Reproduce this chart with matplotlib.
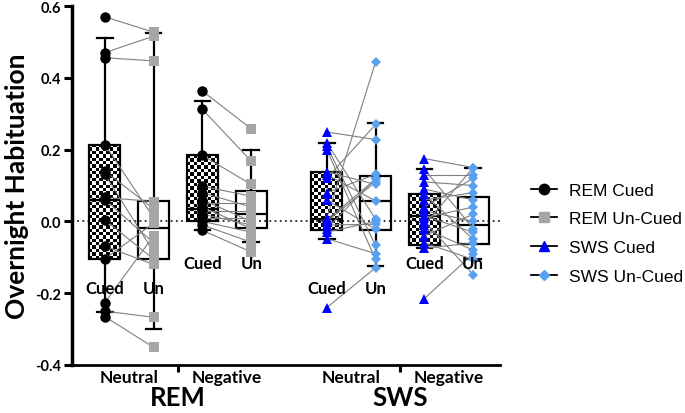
import numpy as np
import matplotlib
matplotlib.use("Agg")
import matplotlib.pyplot as plt
from matplotlib.lines import Line2D

# ---------------- data ----------------
conditions = ["REM Neutral", "REM Negative", "SWS Neutral", "SWS Negative"]
valence_labels = ["Neutral", "Negative", "Neutral", "Negative"]
stage_labels = ["REM", "SWS"]
series_names = ["REM Cued", "REM Un-Cued", "SWS Cued", "SWS Un-Cued"]

rem_neutral_cued = [0.57, 0.47, 0.456, 0.214, 0.14, 0.131, 0.067, 0.061, 0.004, -0.069, -0.104, -0.226, -0.25, -0.265]
rem_neutral_un = [0.527, 0.516, 0.447, 0.01, 0.035, -0.085, 0.055, -0.06, -0.105, -0.12, -0.005, -0.04, -0.267, -0.351]

rem_negative_cued = [0.363, 0.312, 0.184, 0.098, 0.08, 0.06, 0.05, 0.04, 0.03, 0.02, 0.01, 0.0, -0.01, -0.025]
rem_negative_un = [0.258, 0.168, 0.103, 0.07, 0.04, 0.0, 0.05, -0.02, 0.03, -0.01, 0.01, -0.03, -0.058, -0.085]

sws_neutral_cued = [0.249, 0.219, 0.21, 0.2, 0.138, 0.13, 0.12, 0.08, 0.06, 0.01, 0.005, 0.0, -0.01, -0.02, -0.03, -0.048, -0.24]
sws_neutral_un = [0.228, 0.006, -0.067, -0.106, 0.103, 0.057, 0.27, 0.131, -0.022, 0.444, 0.117, 0.11, -0.008, 0.12, 0.0, -0.09, -0.129]

sws_negative_cued = [0.175, 0.145, 0.13, 0.11, 0.09, 0.075, 0.06, 0.04, 0.03, 0.015, 0.01, 0.0, -0.01, -0.02, -0.04, -0.06, -0.075, -0.215]
sws_negative_un = [0.15, -0.02, 0.13, 0.1, 0.06, -0.05, 0.08, 0.12, 0.0, -0.03, 0.04, -0.148, 0.15, -0.08, 0.02, -0.106, -0.06, -0.09]

# box statistics (order: REMneuC, REMneuU, REMnegC, REMnegU, SWSneuC, SWSneuU, SWSnegC, SWSnegU)
box_whislo = [-0.253, -0.30, -0.025, -0.058, -0.048, -0.124, -0.075, -0.104]
box_q1 = [-0.104, -0.106, 0.001, -0.018, -0.025, -0.024, -0.067, -0.062]
box_med = [0.059, -0.018, 0.035, 0.02, 0.006, 0.057, 0.015, -0.011]
box_q3 = [0.214, 0.057, 0.184, 0.086, 0.138, 0.126, 0.075, 0.068]
box_whishi = [0.51, 0.526, 0.335, 0.2, 0.219, 0.273, 0.145, 0.15]

cue_label_y = [-0.185, -0.115, -0.185, -0.115]

# ---------------- style ----------------
positions = [1, 2, 3, 4, 5.55, 6.55, 7.55, 8.55]
box_w = 0.63
colors = {"REM Cued": "black", "REM Un-Cued": "#a6a6a6", "SWS Cued": "#0000ff", "SWS Un-Cued": "#58a0f0"}
markers = {"REM Cued": "o", "REM Un-Cued": "s", "SWS Cued": "^", "SWS Un-Cued": "D"}
msizes = {"REM Cued": 7.5, "REM Un-Cued": 6.5, "SWS Cued": 7.5, "SWS Un-Cued": 5.5}

label_font = "Lato"

fig = plt.figure(figsize=(6.85, 4.14), dpi=100)
ax = fig.add_axes([72 / 685, 48 / 414, 428 / 685, 359 / 414])

xmin, xmax = 1 - 33 / 49, 9.1
ax.set_xlim(xmin, xmax)
ax.set_ylim(-0.4, 0.6)

# boxes
stats = []
for i in range(8):
    stats.append(dict(whislo=box_whislo[i], q1=box_q1[i], med=box_med[i],
                      q3=box_q3[i], whishi=box_whishi[i], fliers=[]))
bp = ax.bxp(stats, positions=positions, widths=box_w, patch_artist=True,
            showfliers=False, manage_ticks=False,
            boxprops=dict(facecolor="white", edgecolor="black", linewidth=1.6),
            medianprops=dict(color="black", linewidth=1.6),
            whiskerprops=dict(color="black", linewidth=1.6),
            capprops=dict(color="black", linewidth=1.6),
            capwidths=0.32)
for j, patch in enumerate(bp["boxes"]):
    patch.set_zorder(2)
for art in bp["medians"] + bp["whiskers"] + bp["caps"]:
    art.set_zorder(2.2)

# checkerboard fill for cued boxes
ax.set_xlim(xmin, xmax)
ax.set_ylim(-0.4, 0.6)
px_per_x = 428 / (xmax - xmin)
px_per_y = 359 / 1.0
cell = 3.4
for j in range(0, 8, 2):
    patch = bp["boxes"][j]
    patch.set_facecolor("none")
    x0, x1 = positions[j] - box_w / 2, positions[j] + box_w / 2
    y0, y1 = box_q1[j], box_q3[j]
    nx = max(1, int(round((x1 - x0) * px_per_x / cell)))
    ny = max(1, int(round((y1 - y0) * px_per_y / cell)))
    board = np.indices((ny, nx)).sum(axis=0) % 2
    im = ax.imshow(board, cmap="gray", extent=(x0, x1, y0, y1), aspect="auto",
                   interpolation="nearest", zorder=1.5, origin="lower")
    im.set_clip_path(patch)
ax.set_xlim(xmin, xmax)
ax.set_ylim(-0.4, 0.6)

# zero line
ax.axhline(0, color="black", linestyle=(0, (1.2, 2.2)), linewidth=1.1, zorder=2.5)

# paired data
pairs = [
    (rem_neutral_cued, rem_neutral_un, "REM Cued", "REM Un-Cued"),
    (rem_negative_cued, rem_negative_un, "REM Cued", "REM Un-Cued"),
    (sws_neutral_cued, sws_neutral_un, "SWS Cued", "SWS Un-Cued"),
    (sws_negative_cued, sws_negative_un, "SWS Cued", "SWS Un-Cued"),
]
for k, (cued, un, sc, su) in enumerate(pairs):
    xc, xu = positions[2 * k], positions[2 * k + 1]
    for a, b in zip(cued, un):
        ax.plot([xc, xu], [a, b], color="#7f7f7f", linewidth=0.8, zorder=3)
    ax.plot([xc] * len(cued), cued, linestyle="none", marker=markers[sc],
            markersize=msizes[sc], color=colors[sc], markeredgewidth=0, zorder=4)
    ax.plot([xu] * len(un), un, linestyle="none", marker=markers[su],
            markersize=msizes[su], color=colors[su], markeredgewidth=0, zorder=4)
    ax.text(xc, cue_label_y[k], "Cued", ha="center", va="center", fontsize=12,
            fontweight="bold", family=label_font, zorder=6)
    ax.text(xu, cue_label_y[k], "Un", ha="center", va="center", fontsize=12,
            fontweight="bold", family=label_font, zorder=6)

# axes styling
for s in ["top", "right"]:
    ax.spines[s].set_visible(False)
ax.spines["left"].set_linewidth(2.5)
ax.spines["bottom"].set_linewidth(2.0)
ax.set_yticks([-0.4, -0.2, 0.0, 0.2, 0.4, 0.6])
ax.set_yticklabels(["-0.4", "-0.2", "0.0", "0.2", "0.4", "0.6"])
ax.tick_params(axis="y", direction="out", length=6, width=2.2, labelsize=10.5, pad=2)
for lab in ax.get_yticklabels():
    lab.set_fontweight("bold")
    lab.set_family(label_font)

sep = [(positions[1] + positions[2]) / 2, (positions[5] + positions[6]) / 2]
ax.set_xticks(sep)
ax.set_xticklabels([])
ax.tick_params(axis="x", direction="out", length=5, width=2.2)

ax.set_ylabel("Overnight Habituation", fontsize=19, fontweight="bold",
              family=label_font, labelpad=4)

for k in range(4):
    xm = (positions[2 * k] + positions[2 * k + 1]) / 2
    ax.text(xm, -0.433, valence_labels[k], ha="center", va="center", fontsize=12.5,
            fontweight="bold", family=label_font, transform=ax.transData, clip_on=False)
for k in range(2):
    xm = (positions[4 * k] + positions[4 * k + 3]) / 2
    ax.text(xm, -0.49, stage_labels[k], ha="center", va="center", fontsize=18.5,
            fontweight="bold", family=label_font, transform=ax.transData, clip_on=False)

# legend
handles = [Line2D([0], [0], color="black", linewidth=1.3, marker=markers[n],
                  markersize=msizes[n], markerfacecolor=colors[n],
                  markeredgecolor=colors[n]) for n in series_names]
fig.legend(handles, series_names, loc="upper left", bbox_to_anchor=(515 / 685, 1 - 168 / 414),
           frameon=False, handlelength=1.5, handletextpad=0.7,
           labelspacing=0.78, prop={"family": "Liberation Sans", "size": 12.5})

fig.savefig("out.png", dpi=100)
